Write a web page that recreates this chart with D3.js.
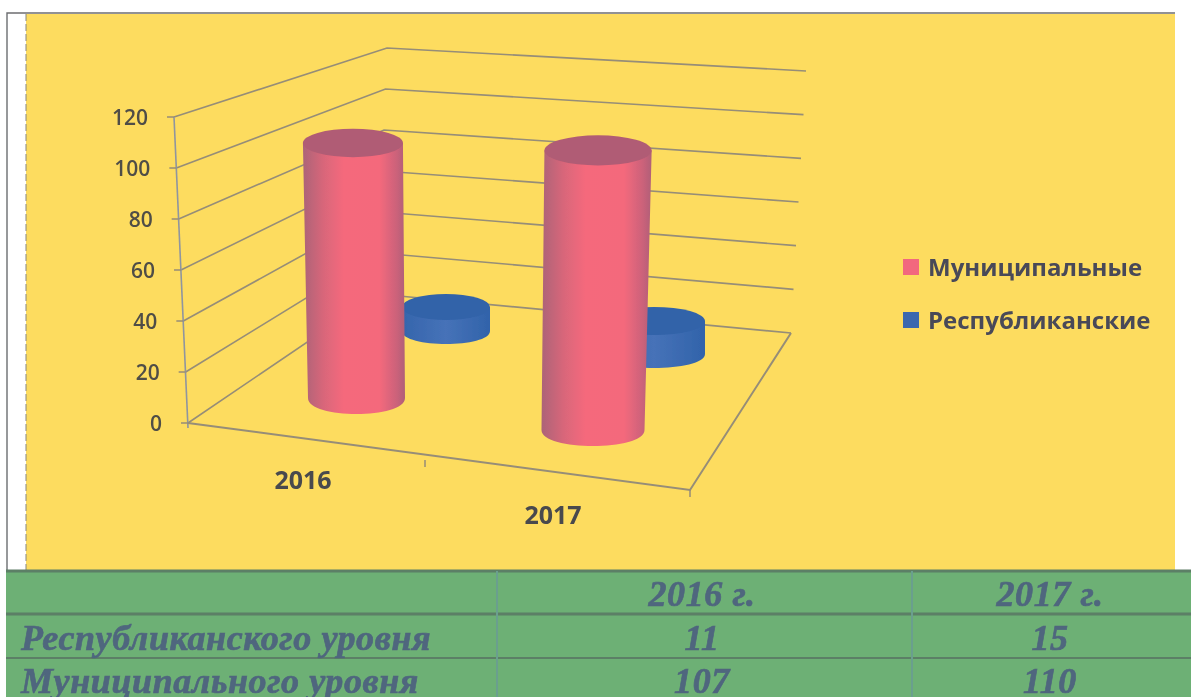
<!DOCTYPE html>
<html>
<head>
<meta charset="utf-8">
<script src="https://cdn.jsdelivr.net/npm/d3@7"></script>
<style>
  html, body { margin: 0; padding: 0; background: #fff; overflow: hidden; }
  svg { display: block; }
</style>
</head>
<body>
<div id="chart"></div>
<script>
const categories = ["2016", "2017"];
const seriesNames = ["Муниципальные", "Республиканские"];
const municipal = [107, 110];
const republican = [11, 15];
const yTicks = [0, 20, 40, 60, 80, 100, 120];
const tableHeader = ["", "2016 г.", "2017 г."];
const tableRowNames = ["Республиканского уровня", "Муниципального уровня"];

const width = 1192, height = 697;
const yellow = "#fddc5e", green = "#6db074", gridColor = "#968d78";

const svg = d3.select("#chart").append("svg")
    .attr("width", width)
    .attr("height", height);

const defs = svg.append("defs");

// scan softness
defs.append("filter").attr("id", "soft")
    .append("feGaussianBlur").attr("stdDeviation", 0.7);

function sideGradient(id, stops) {
    const g = defs.append("linearGradient").attr("id", id);
    stops.forEach(s => g.append("stop").attr("offset", s[0]).attr("stop-color", s[1]));
}
sideGradient("redSide", [[0, "#ac6478"], [0.2, "#d8667a"], [0.4, "#f5697c"], [0.75, "#f4697c"], [0.92, "#cb627a"], [1, "#b06078"]]);
sideGradient("blueSide", [[0, "#3565ac"], [0.5, "#4672b8"], [1, "#3163aa"]]);

const root = svg.append("g").attr("filter", "url(#soft)");

// page: frame and yellow plate
root.append("rect").attr("x", 26).attr("y", 14).attr("width", 1149).attr("height", 558).attr("fill", yellow);
root.append("path").attr("d", "M7,570V13H1175").attr("fill", "none").attr("stroke", "#6c6d70").attr("stroke-width", 1.4);
root.append("path").attr("d", "M26,14V570").attr("fill", "none").attr("stroke", "#86867e").attr("stroke-width", 1).attr("stroke-dasharray", "7 3");

// the 3d box: each corner is a scale from value to screen
const leftX = d3.scaleLinear().domain([0, 120]).range([188, 174]);
const leftY = d3.scaleLinear().domain([0, 120]).range([423, 117]);
const backX = d3.scaleLinear().domain([0, 120]).range([378, 387]);
const backY = d3.scaleLinear().domain([0, 120]).range([294, 48]);
const rightX = d3.scaleLinear().domain([0, 120]).range([791, 806]);
const rightY = d3.scaleLinear().domain([0, 120]).range([333, 71]);

const chart = root.append("g");

chart.selectAll("path.grid")
    .data(yTicks)
    .join("path")
    .attr("class", "grid")
    .attr("fill", "none")
    .attr("stroke", gridColor)
    .attr("stroke-width", 1.6)
    .attr("d", d => d3.line()([[leftX(d), leftY(d)], [backX(d), backY(d)], [rightX(d), rightY(d)]]));

// left axis
chart.append("line")
    .attr("x1", leftX(120)).attr("y1", leftY(120))
    .attr("x2", leftX(0)).attr("y2", leftY(0) + 5)
    .attr("stroke", "#8f95a0").attr("stroke-width", 1.6);

chart.selectAll("line.tick")
    .data(yTicks)
    .join("line")
    .attr("class", "tick")
    .attr("x1", d => leftX(d) - 7).attr("x2", d => leftX(d))
    .attr("y1", d => leftY(d)).attr("y2", d => leftY(d))
    .attr("stroke", gridColor).attr("stroke-width", 1.5);

chart.selectAll("text.ytick")
    .data(yTicks)
    .join("text")
    .attr("class", "ytick")
    .attr("x", d => leftX(d) - 26)
    .attr("y", d => leftY(d) + 8)
    .attr("text-anchor", "end")
    .attr("font-family", "'Open Sans', sans-serif")
    .attr("font-weight", 600)
    .attr("font-size", 21)
    .attr("fill", "#4f4d47")
    .text(d => d);

// floor front and right edges
const frontX = d3.scaleLinear().domain([0, 1, 2]).range([188, 425, 690]);
const frontY = d3.scaleLinear().domain([0, 1, 2]).range([423, 460, 490]);

chart.append("path")
    .attr("fill", "none")
    .attr("stroke", gridColor)
    .attr("stroke-width", 2)
    .attr("d", d3.line()([[frontX(0), frontY(0)], [frontX(2), frontY(2)], [rightX(0), rightY(0)]]));

chart.selectAll("line.xtick")
    .data([1, 2])
    .join("line")
    .attr("class", "xtick")
    .attr("x1", d => frontX(d)).attr("x2", d => frontX(d))
    .attr("y1", d => frontY(d)).attr("y2", d => frontY(d) + 7)
    .attr("stroke", gridColor).attr("stroke-width", 1.5);

const yearPos = [{ x: 303, y: 489 }, { x: 553, y: 524 }];
chart.selectAll("text.year")
    .data(categories)
    .join("text")
    .attr("class", "year")
    .attr("x", (d, i) => yearPos[i].x)
    .attr("y", (d, i) => yearPos[i].y)
    .attr("text-anchor", "middle")
    .attr("font-family", "'Open Sans', sans-serif")
    .attr("font-weight", 700)
    .attr("font-size", 25)
    .attr("fill", "#484a4e")
    .text(d => d);

// cylinders: base and top-at-120 come from the perspective, the value picks the point between
function drawCylinder(value, o) {
    const cx = d3.scaleLinear().domain([0, 120]).range([o.cx0, o.cx120]);
    const cy = d3.scaleLinear().domain([0, 120]).range([o.cy0, o.cy120]);
    const rx = d3.scaleLinear().domain([0, 120]).range([o.rx0, o.rx120]);
    const ry = d3.scaleLinear().domain([0, 120]).range([o.ry0, o.ry120]);

    const bx = cx(0), by = cy(0), brx = rx(0), bry = ry(0);
    const tx = cx(value), ty = cy(value), trx = rx(value), tr = ry(value);

    const side = d3.path();
    side.moveTo(tx - trx, ty);
    side.lineTo(bx - brx, by);
    side.bezierCurveTo(bx - brx, by + bry * 1.33, bx + brx, by + bry * 1.33, bx + brx, by);
    side.lineTo(tx + trx, ty);
    side.closePath();

    chart.append("path").attr("d", side.toString()).attr("fill", `url(#${o.side})`);
    chart.append("ellipse")
        .attr("cx", tx).attr("cy", ty)
        .attr("rx", trx).attr("ry", tr)
        .attr("fill", o.top);
}

const blueShape = [
    { cx0: 446, cx120: 446, cy0: 331, cy120: 69, rx0: 44, rx120: 44, ry0: 13, ry120: 13 },
    { cx0: 654, cx120: 654, cy0: 354, cy120: 90, rx0: 51, rx120: 51, ry0: 14, ry120: 14 }
];
const redShape = [
    { cx0: 356.5, cx120: 352.5, cy0: 398, cy120: 112, rx0: 48.5, rx120: 50.2, ry0: 16, ry120: 14 },
    { cx0: 593, cx120: 598.5, cy0: 430, cy120: 125, rx0: 51.5, rx120: 53.8, ry0: 16, ry120: 15 }
];

republican.forEach((v, i) => drawCylinder(v, Object.assign({ side: "blueSide", top: "#3263a9" }, blueShape[i])));
municipal.forEach((v, i) => drawCylinder(v, Object.assign({ side: "redSide", top: "#b05c74" }, redShape[i])));

// legend
const legendColors = ["#f2687e", "#3a68ae"];
const legendY = [267, 320];
const legend = chart.selectAll("g.legend")
    .data(seriesNames)
    .join("g")
    .attr("class", "legend")
    .attr("transform", (d, i) => `translate(903,${legendY[i]})`);
legend.append("rect")
    .attr("y", -8).attr("width", 16).attr("height", 16)
    .attr("fill", (d, i) => legendColors[i]);
legend.append("text")
    .attr("x", 25).attr("y", 9)
    .attr("font-family", "'Open Sans', sans-serif")
    .attr("font-weight", 700)
    .attr("font-size", 24)
    .attr("fill", "#484959")
    .text(d => d);

// table under the chart
const columnX = [6, 497, 912, 1191];
const rowY = [571, 614, 658, 697];
const table = root.append("g");
table.append("rect")
    .attr("x", columnX[0]).attr("y", rowY[0])
    .attr("width", columnX[3] - columnX[0]).attr("height", height - rowY[0])
    .attr("fill", green);
table.selectAll("line.rowline")
    .data(rowY.slice(0, 3))
    .join("line")
    .attr("class", "rowline")
    .attr("x1", columnX[0]).attr("x2", columnX[3])
    .attr("y1", d => d).attr("y2", d => d)
    .attr("stroke", "#5c7f66")
    .attr("stroke-width", (d, i) => [3, 3, 2][i]);
table.selectAll("line.colline")
    .data(columnX.slice(1, 3))
    .join("line")
    .attr("class", "colline")
    .attr("x1", d => d).attr("x2", d => d)
    .attr("y1", rowY[0]).attr("y2", height)
    .attr("stroke", "#6a9f8e")
    .attr("stroke-width", 2);

const cellFont = t => t
    .attr("font-family", "'Liberation Serif', serif")
    .attr("font-weight", 700)
    .attr("font-style", "italic")
    .attr("font-size", 36)
    .attr("letter-spacing", 0.6)
    .attr("fill", "#4f667e")
    .attr("stroke", "#4f667e")
    .attr("stroke-width", 0.7);

const colCenter = [702, 1050];
const rowBase = [606, 650, 693];

tableHeader.slice(1).forEach((t, i) => {
    table.append("text").attr("x", colCenter[i]).attr("y", rowBase[0])
        .attr("text-anchor", "middle").call(cellFont).text(t);
});
tableRowNames.forEach((t, i) => {
    table.append("text").attr("x", 21).attr("y", rowBase[i + 1]).call(cellFont).text(t);
});
[republican, municipal].forEach((row, r) => {
    row.forEach((v, i) => {
        table.append("text").attr("x", colCenter[i]).attr("y", rowBase[r + 1])
            .attr("text-anchor", "middle").call(cellFont).text(v);
    });
});
</script>
</body>
</html>
